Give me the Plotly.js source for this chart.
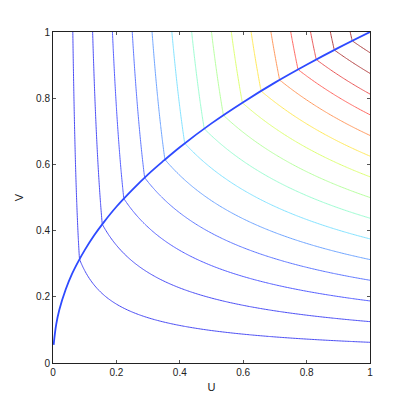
<!DOCTYPE html>
<html>
<head>
<meta charset="utf-8">
<script src="https://cdn.plot.ly/plotly-3.0.1.min.js"></script>
<style>
  html, body { margin: 0; padding: 0; background: #fff; }
  #chart { width: 409px; height: 409px; }
</style>
</head>
<body>
<div id="chart"></div>
<script>
  // --- Values ---
  // contour levels (where each line meets the top edge / right edge)
  const levels = [0.0625, 0.125, 0.1875, 0.25, 0.3125, 0.375, 0.4375, 0.5,
                  0.5625, 0.625, 0.6875, 0.75, 0.8125, 0.875, 0.9375];
  // line colour of each level, as it looks in the picture (washed jet)
  const levelColors = ['#4a4cf4', '#5258ff', '#5a6cff', '#6486ff', '#78bcff',
                       '#88f2ff', '#a0ffca', '#b8ffa0', '#d8ff78', '#ffff5c',
                       '#ffb458', '#ff7868', '#ff5c5c', '#e25252', '#ae4242'];
  // Marshall-Olkin parameters estimated from the kinks and edge slopes
  const alpha = 0.35;
  const beta = 0.75;

  // singular curve, points
  const curveU = [0.002, 0.01, 0.02, 0.04, 0.06, 0.08, 0.1, 0.13, 0.16, 0.2,
                  0.25, 0.3, 0.35, 0.4, 0.5, 0.6, 0.7, 0.8, 0.9, 1.0];
  const curveV = [0.055, 0.116, 0.161, 0.222, 0.269, 0.307, 0.341, 0.386, 0.425, 0.472,
                  0.523, 0.570, 0.612, 0.652, 0.724, 0.788, 0.847, 0.901, 0.952, 1.0];

  const tickVals = [0, 0.2, 0.4, 0.6, 0.8, 1];

  // --- surface grid ---
  const N = 201;
  const grid = [];
  for (let i = 0; i < N; i++) grid.push(i / (N - 1));
  const z = grid.map(v => grid.map(u =>
    Math.min(Math.pow(u, 1 - alpha) * v, u * Math.pow(v, 1 - beta))
  ));

  const colorscale = [[0, levelColors[0]]]
    .concat(levels.map((l, i) => [l, levelColors[i]]))
    .concat([[1, levelColors[levelColors.length - 1]]]);

  const contourTrace = {
    type: 'contour',
    x: grid,
    y: grid,
    z: z,
    zmin: 0,
    zmax: 1,
    autocontour: false,
    contours: { start: levels[0], end: levels[levels.length - 1], size: 0.0625, coloring: 'lines' },
    colorscale: colorscale,
    line: { width: 1 },
    showscale: false,
    hoverinfo: 'skip',
  };

  const curveTrace = {
    type: 'scatter',
    mode: 'lines',
    x: curveU,
    y: curveV,
    line: { color: '#2e4aff', width: 1.8, shape: 'spline' },
    hoverinfo: 'skip',
  };

  const axisBase = {
    range: [0, 1],
    tickvals: tickVals,
    ticks: 'inside',
    ticklen: 3,
    tickcolor: '#555',
    showline: true,
    linecolor: '#222',
    linewidth: 1,
    mirror: 'ticks',
    showgrid: false,
    zeroline: false,
    tickfont: { family: 'Liberation Sans, Arial, sans-serif', size: 10, color: '#222' },
  };

  const layout = {
    width: 409,
    height: 409,
    margin: { t: 32, r: 39, b: 46, l: 53 },
    paper_bgcolor: '#fff',
    plot_bgcolor: '#fff',
    showlegend: false,
    xaxis: {
      ...axisBase,
      title: { text: 'U', standoff: 6, font: { family: 'Liberation Sans, Arial, sans-serif', size: 11, color: '#222' } },
    },
    yaxis: {
      ...axisBase,
      title: { text: 'V', standoff: 10, font: { family: 'Liberation Sans, Arial, sans-serif', size: 11, color: '#222' } },
    },
  };

  Plotly.newPlot('chart', [contourTrace, curveTrace], layout, { staticPlot: true, displayModeBar: false });
</script>
</body>
</html>
